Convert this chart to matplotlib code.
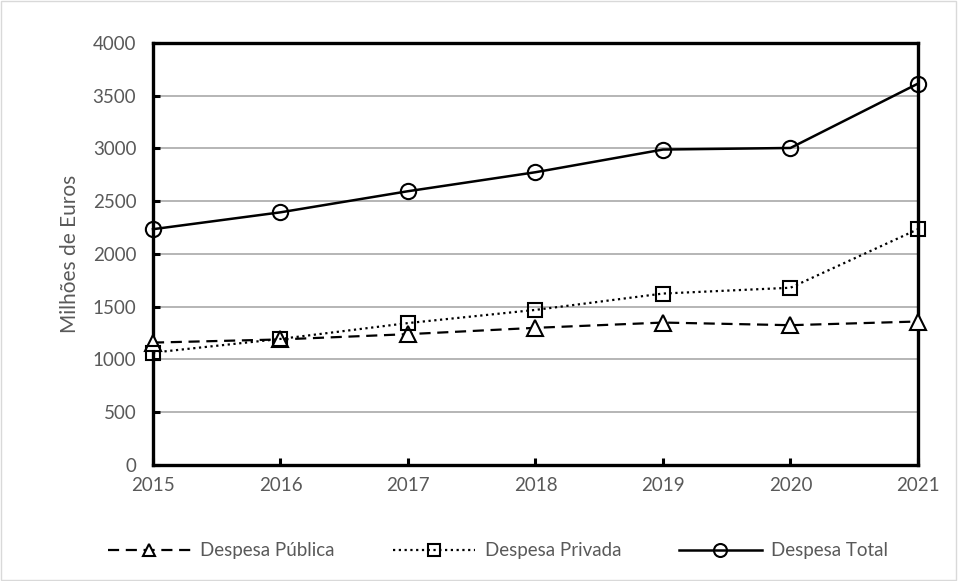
import matplotlib
matplotlib.use("Agg")
import matplotlib.pyplot as plt
from matplotlib.patches import Rectangle

anos = [2015, 2016, 2017, 2018, 2019, 2020, 2021]
despesa_publica = [1160, 1190, 1240, 1300, 1350, 1325, 1360]
despesa_privada = [1065, 1195, 1345, 1470, 1625, 1680, 2235]
despesa_total = [2235, 2395, 2595, 2775, 2990, 3005, 3615]

plt.rcParams['font.family'] = ['Lato', 'DejaVu Sans']
cinza = '#595959'

fig = plt.figure(figsize=(9.58, 5.81), dpi=100)
ax = fig.add_axes([0.1597, 0.1997, 0.7985, 0.7263])

ax.plot(anos, despesa_publica, color='black', lw=1.6, ls=(0, (5, 3)),
        marker='^', ms=11, mfc='white', mec='black', mew=1.5,
        label='Despesa Pública', clip_on=False, zorder=3)
ax.plot(anos, despesa_privada, color='black', lw=1.6, ls=(0, (1, 1.6)),
        marker='s', ms=10, mfc='none', mec='black', mew=1.5,
        label='Despesa Privada', clip_on=False, zorder=3)
ax.plot(anos, despesa_total, color='black', lw=1.8, ls='-',
        marker='o', ms=11, mfc='none', mec='black', mew=1.5,
        label='Despesa Total', clip_on=False, zorder=3)

ax.set_xlim(2015, 2021)
ax.set_ylim(0, 4000)
ax.set_yticks(range(0, 4001, 500))
ax.set_xticks(anos)
ax.grid(axis='y', color='#b0b0b0', lw=1.3)
ax.set_axisbelow(True)

for s in ax.spines.values():
    s.set_linewidth(2.4)
    s.set_color('black')

ax.tick_params(axis='both', direction='in', length=5, width=2.2,
               labelsize=13.5, labelcolor=cinza, color='black')
ax.tick_params(axis='x', pad=9)
ax.tick_params(axis='y', pad=12)
ax.set_ylabel('Milhões de Euros', fontsize=15, color=cinza, labelpad=9)

leg = fig.legend(loc='lower center', bbox_to_anchor=(0.52, 0.008), ncol=3,
                 frameon=False, fontsize=13.5, handlelength=4.4,
                 columnspacing=3.1, handletextpad=0.5, markerscale=0.85)
for t in leg.get_texts():
    t.set_color(cinza)

fig.patches.append(Rectangle((0.001, 0.001), 0.997, 0.997, transform=fig.transFigure,
                             fill=False, edgecolor='#d9d9d9', lw=1))

fig.savefig('out.png', dpi=100)
